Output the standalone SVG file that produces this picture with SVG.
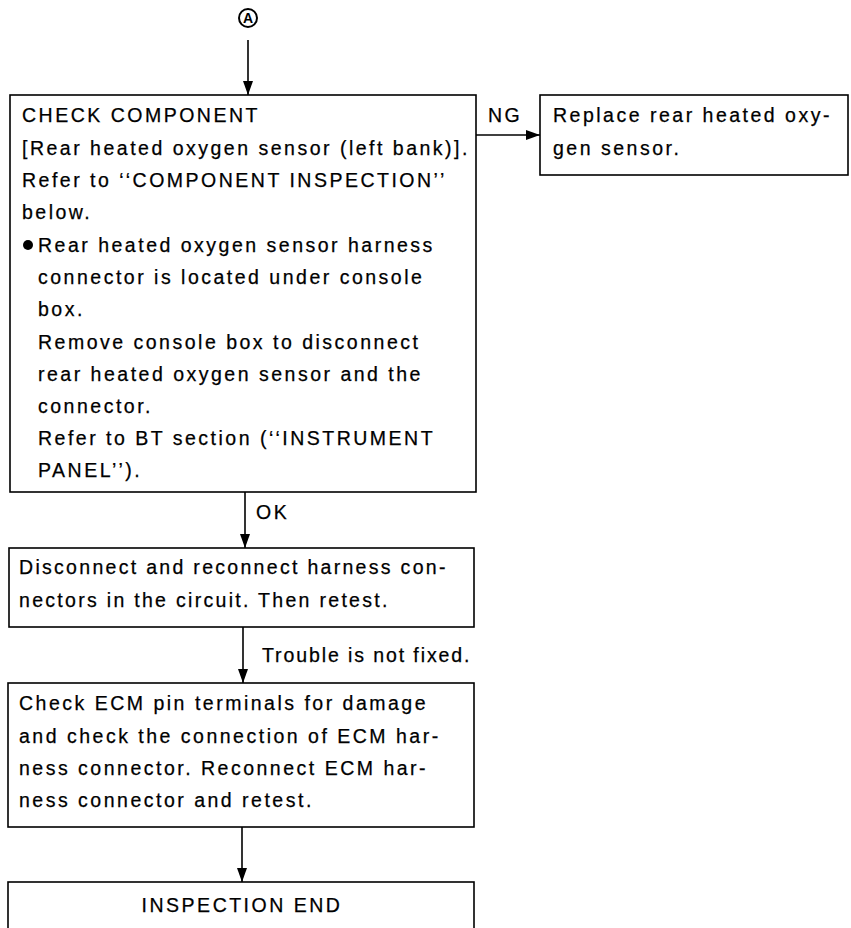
<svg xmlns="http://www.w3.org/2000/svg" width="851" height="928" viewBox="0 0 851 928">
  <style>
    .box { fill: #fff; stroke: #000; stroke-width: 1.6; }
    .t { font-family: "Liberation Sans", Arial, sans-serif; font-size: 19.5px; letter-spacing: 2.5px; fill: #000; stroke: #000; stroke-width: 0.25; }
    .wire { stroke: #000; stroke-width: 1.6; fill: none; }
  </style>
  <defs>
    <marker id="arrow" viewBox="0 0 14 10" refX="14" refY="5" markerWidth="14" markerHeight="10" markerUnits="userSpaceOnUse" orient="auto">
      <path d="M0,0 L14,5 L0,10 Z" fill="#000"/>
    </marker>
  </defs>
  <rect width="851" height="928" fill="#fff"/>

  <g id="connectors">
    <line class="wire" x1="248" y1="40" x2="248" y2="95" marker-end="url(#arrow)"/>
    <line class="wire" x1="476" y1="135" x2="540" y2="135" marker-end="url(#arrow)"/>
    <line class="wire" x1="245" y1="492" x2="245" y2="548" marker-end="url(#arrow)"/>
    <line class="wire" x1="243" y1="627" x2="243" y2="683" marker-end="url(#arrow)"/>
    <line class="wire" x1="242" y1="827" x2="242" y2="882" marker-end="url(#arrow)"/>
    <text class="t" x="488" y="122">NG</text>
    <text class="t" x="256" y="519">OK</text>
    <text class="t" x="262" y="662" style="letter-spacing:1.9px">Trouble is not fixed.</text>
  </g>

  <g id="start-A">
    <circle cx="248" cy="18" r="9" fill="#fff" stroke="#000" stroke-width="2"/>
    <text x="248" y="23" text-anchor="middle" font-family="Liberation Sans, Arial, sans-serif" font-size="14" font-weight="bold">A</text>
  </g>

  <g id="check-component">
    <rect class="box" x="10" y="95" width="466" height="397"/>
    <text class="t" x="22" y="122">CHECK COMPONENT</text>
    <text class="t" x="22" y="155">[Rear heated oxygen sensor (left bank)].</text>
    <text class="t" x="22" y="187">Refer to ‘‘COMPONENT INSPECTION’’</text>
    <text class="t" x="22" y="219">below.</text>
    <circle cx="28" cy="245" r="5" fill="#000"/>
    <text class="t" x="38" y="252">Rear heated oxygen sensor harness</text>
    <text class="t" x="38" y="284">connector is located under console</text>
    <text class="t" x="38" y="316">box.</text>
    <text class="t" x="38" y="349">Remove console box to disconnect</text>
    <text class="t" x="38" y="381">rear heated oxygen sensor and the</text>
    <text class="t" x="38" y="413">connector.</text>
    <text class="t" x="38" y="445">Refer to BT section (‘‘INSTRUMENT</text>
    <text class="t" x="38" y="477">PANEL’’).</text>
  </g>

  <g id="replace-sensor">
    <rect class="box" x="540" y="95" width="308" height="80"/>
    <text class="t" x="553" y="122">Replace rear heated oxy-</text>
    <text class="t" x="553" y="155">gen sensor.</text>
  </g>

  <g id="reconnect-harness">
    <rect class="box" x="9" y="548" width="465" height="79"/>
    <text class="t" x="19" y="574" style="letter-spacing:2.3px">Disconnect and reconnect harness con-</text>
    <text class="t" x="19" y="607" style="letter-spacing:2.3px">nectors in the circuit. Then retest.</text>
  </g>

  <g id="check-ecm">
    <rect class="box" x="8" y="683" width="466" height="144"/>
    <text class="t" x="19" y="710">Check ECM pin terminals for damage</text>
    <text class="t" x="19" y="743">and check the connection of ECM har-</text>
    <text class="t" x="19" y="775">ness connector. Reconnect ECM har-</text>
    <text class="t" x="19" y="807">ness connector and retest.</text>
  </g>

  <g id="inspection-end">
    <rect class="box" x="8" y="882" width="466" height="60"/>
    <text class="t" x="242" y="912" text-anchor="middle">INSPECTION END</text>
  </g>
</svg>
